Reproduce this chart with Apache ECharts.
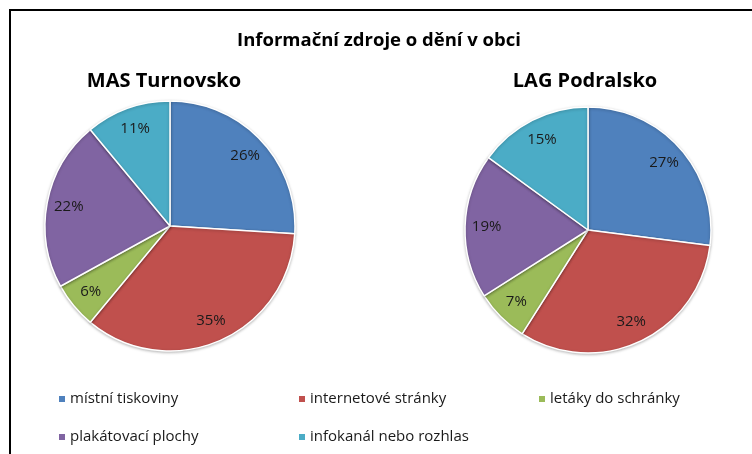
<!DOCTYPE html>
<html>
<head>
<meta charset="utf-8">
<script src="https://cdn.jsdelivr.net/npm/echarts@6/dist/echarts.min.js"></script>
<style>
  html, body { margin: 0; padding: 0; background: #fff; }
  #chart { width: 752px; height: 454px; }
</style>
</head>
<body>
<div id="chart"></div>
<script>
const categories = ['místní tiskoviny', 'internetové stránky', 'letáky do schránky', 'plakátovací plochy', 'infokanál nebo rozhlas']
const masTurnovsko = [26, 35, 6, 22, 11]
const lagPodralsko = [27, 32, 7, 19, 15]
const colors = ['#4F81BD', '#C0504D', '#9BBB59', '#8064A2', '#4BACC6']
const font = 'Open Sans'

const toData = (vals) => categories.map((name, i) => ({ name, value: vals[i] }))

// main pie, drawn without labels
const pieSeries = (vals, center, r) => ({
  type: 'pie',
  center,
  radius: [0, r],
  startAngle: 90,
  clockwise: true,
  silent: true,
  label: { show: false },
  labelLine: { show: false },
  itemStyle: {
    borderColor: '#fff',
    borderWidth: 1.5,
    shadowBlur: 3,
    shadowOffsetY: 1,
    shadowColor: 'rgba(0,0,0,0.25)'
  },
  data: toData(vals)
})

// transparent ring on top, so the labels sit at ~0.8 of radius
const labelSeries = (vals, center, r) => ({
  type: 'pie',
  center,
  radius: [r * 0.6, r],
  startAngle: 90,
  clockwise: true,
  silent: true,
  z: 5,
  itemStyle: { color: 'rgba(0,0,0,0)' },
  label: {
    show: true,
    position: 'inside',
    formatter: '{c}%',
    fontFamily: font,
    fontSize: 15,
    color: '#1a1a1a'
  },
  labelLine: { show: false },
  data: toData(vals)
})

// one legend per item so they sit on a fixed grid
const legendPos = [[57, 390], [297, 390], [537, 390], [57, 428], [297, 428]]
const legends = categories.map((name, i) => ({
  left: legendPos[i][0],
  top: legendPos[i][1],
  padding: 0,
  icon: 'rect',
  itemWidth: 8,
  itemHeight: 8,
  selectedMode: false,
  textStyle: { fontFamily: font, fontSize: 15, lineHeight: 18, color: '#1a1a1a', padding: [0, 0, 0, -1] },
  data: [{ name, itemStyle: { color: colors[i] } }]
}))

const titleStyle = (size) => ({ fontFamily: font, fontSize: size, fontWeight: 'bold', color: '#000' })

const chart = echarts.init(document.getElementById('chart'))
chart.setOption({
  color: colors,
  animation: false,
  title: [
    { text: 'Informační zdroje o dění v obci', left: 379, top: 31, textAlign: 'center', padding: 0, textStyle: titleStyle(18.5) },
    { text: 'MAS Turnovsko', left: 164, top: 71, textAlign: 'center', padding: 0, textStyle: titleStyle(20) },
    { text: 'LAG Podralsko', left: 585, top: 71, textAlign: 'center', padding: 0, textStyle: titleStyle(20) }
  ],
  legend: legends,
  graphic: [{
    type: 'rect',
    shape: { x: 10, y: 10, width: 900, height: 600 },
    style: { fill: 'none', stroke: '#000', lineWidth: 2 },
    silent: true
  }],
  series: [
    pieSeries(masTurnovsko, [170, 226], 125),
    pieSeries(lagPodralsko, [588, 230], 123),
    labelSeries(masTurnovsko, [170, 226], 125),
    labelSeries(lagPodralsko, [588, 230], 123)
  ]
})
</script>
</body>
</html>
